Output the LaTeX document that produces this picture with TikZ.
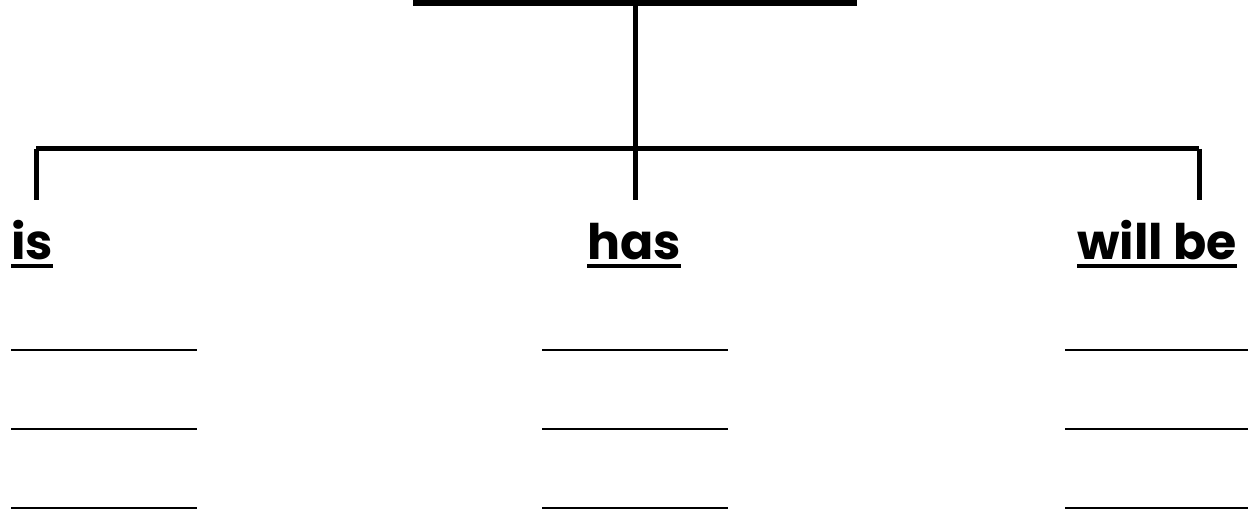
\documentclass[tikz,border=0pt]{standalone}
\usepackage{fontspec}
\setmainfont{Poppins}
\usetikzlibrary{positioning}
\begin{document}
\begin{tikzpicture}[
    x=1pt, y=-1pt,
    branch/.style={line width=5pt},
    heading/.style={font=\fontsize{49}{54}\selectfont\bfseries, inner sep=0pt, anchor=base west},
    uline/.style={line width=4pt},
    blank/.style={line width=2pt}
]
\useasboundingbox (0,0) rectangle (1248,513);

% Title underline and stem
\coordinate (tl) at (413,3.5);
\coordinate (tr) at (857,3.5);
\coordinate (top) at (635,3.5);
\draw[line width=6pt] (tl) -- (tr);

% Branch bar
\coordinate (bl) at (36,149);
\coordinate (bm) at (635,149);
\coordinate (br) at (1199,149);
\draw[branch] (top) -- (bm);
\draw[branch] (bl) -- (br);

% Headings
\node[heading] (is) at (11,260) {is};
\node[heading] (has) at (587,260) {has};
\node[heading] (willbe) at (1077,260) {will be};

% Drops
\draw[branch] (bl) -- (36,200);
\draw[branch] (bm) -- (635,200);
\draw[branch] (br) -- (1199,200);

% Underlines
\foreach \n in {is,has,willbe}
  \draw[uline] ([yshift=-6pt]\n.base west) -- ([yshift=-6pt]\n.base east);

% Blank lines
\foreach \x in {11,542,1065}
  \foreach \y in {350,429,508}
    \draw[blank] (\x,\y) -- ++(186,0);

\end{tikzpicture}
\end{document}
